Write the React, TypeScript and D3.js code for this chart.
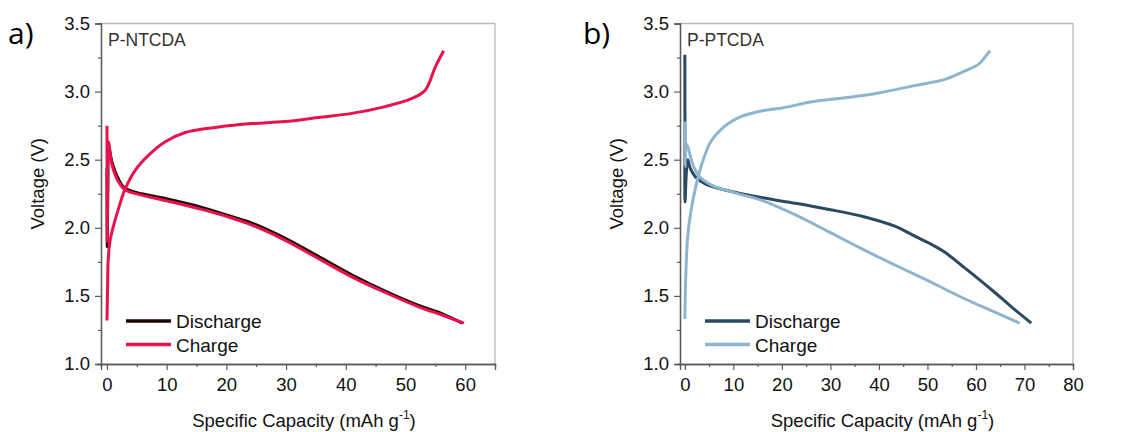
import React, { useEffect, useRef } from 'react';
import * as d3 from 'd3';

type Pt = [number, number];

// a) P-NTCDA  [capacity mAh/g, voltage V]
const ntcdaDischarge: Pt[] = [
  [0.0, 2.44], [0.02, 2.1], [0.05, 1.86], [0.15, 2.3], [0.3, 2.6], [0.8, 2.49], [1.9, 2.36],
  [3.0, 2.29], [5.8, 2.25], [10.3, 2.21], [15.9, 2.15], [20.3, 2.09], [24.3, 2.035], [29.8, 1.925],
  [35.4, 1.79], [41.0, 1.655], [46.6, 1.535], [52.2, 1.43], [56.1, 1.37], [59.5, 1.3],
];
const ntcdaChargeDown: Pt[] = [
  [0.0, 2.75], [0.03, 2.2], [0.06, 1.9], [0.12, 2.4], [0.25, 2.63], [0.8, 2.47], [1.9, 2.34],
  [3.0, 2.28], [5.8, 2.24], [10.3, 2.195], [15.9, 2.135], [20.3, 2.08], [24.3, 2.02], [29.8, 1.91],
  [35.4, 1.775], [41.0, 1.64], [46.6, 1.525], [52.2, 1.42], [56.1, 1.36], [59.8, 1.3],
];
const ntcdaCharge: Pt[] = [
  [0.0, 1.32], [0.1, 1.55], [0.2, 1.76], [0.5, 1.9], [1.07, 2.01], [2.0, 2.15], [3.0, 2.28],
  [4.7, 2.42], [6.9, 2.53], [9.7, 2.63], [13.1, 2.7], [18.7, 2.74], [24.3, 2.765], [29.8, 2.78],
  [35.4, 2.81], [41.0, 2.84], [46.6, 2.89], [51.1, 2.95], [53.3, 3.01], [55.0, 3.18], [56.4, 3.3],
];

// b) P-PTCDA
const ptcdaDischarge: Pt[] = [
  [0.0, 3.27], [0.02, 2.8], [0.04, 2.19], [0.3, 2.4], [0.6, 2.5], [0.9, 2.46], [1.5, 2.41],
  [2.3, 2.37], [4.3, 2.32], [9.1, 2.27], [16, 2.22], [22.8, 2.18], [29.7, 2.135], [36.5, 2.085],
  [43.4, 2.01], [46.8, 1.95], [50.2, 1.89], [53.6, 1.82], [57, 1.725], [60, 1.64], [63.9, 1.525],
  [67.3, 1.42], [71.4, 1.3],
];
const ptcdaChargeDown: Pt[] = [
  [0.0, 2.78], [0.05, 2.45], [0.2, 2.62], [0.55, 2.6], [1.6, 2.47], [2.9, 2.38], [5.7, 2.31],
  [10.5, 2.255], [16, 2.2], [22.8, 2.095], [29.7, 1.97], [36.5, 1.845], [43.4, 1.725],
  [50.2, 1.61], [57, 1.49], [63.9, 1.38], [69, 1.3],
];
const ptcdaCharge: Pt[] = [
  [0.0, 1.33], [0.2, 1.65], [0.55, 1.92], [1.2, 2.11], [2.3, 2.31], [3.6, 2.48], [5.3, 2.63],
  [7.1, 2.71], [9.1, 2.77], [11.8, 2.82], [16, 2.86], [20.1, 2.88], [26.2, 2.925], [33.1, 2.955],
  [39.9, 2.99], [46.8, 3.04], [53.6, 3.09], [57, 3.14], [60.5, 3.2], [61.8, 3.25], [62.9, 3.3],
];

const voltageTicks = [1.0, 1.5, 2.0, 2.5, 3.0, 3.5];
const voltageMinor = [1.25, 1.75, 2.25, 2.75, 3.25];
const ntcdaCapTicks = [0, 10, 20, 30, 40, 50, 60];
const ptcdaCapTicks = [0, 10, 20, 30, 40, 50, 60, 70, 80];
const legendNames = ['Discharge', 'Charge'];

const FONT = '"Liberation Sans", Arial, sans-serif';
const TOP = 23.5;
const BOTTOM = 364;

const Panel = ({ letter, letterX, name, left, right, xMax, capTicks, discharge, chargeDown, charge, colors }) => {
  const xAxisRef = useRef(null);
  const yAxisRef = useRef(null);

  const x = d3.scaleLinear().domain([-1, xMax]).range([left, right]);
  const y = d3.scaleLinear().domain([1, 3.5]).range([BOTTOM, TOP]);

  const line = d3.line<Pt>()
    .x(d => x(d[0]))
    .y(d => y(d[1]))
    .curve(d3.curveCatmullRom.alpha(0.5));

  useEffect(() => {
    const gx = d3.select(xAxisRef.current);
    gx.selectAll('*').remove();
    const minor = d3.range(5, xMax + 0.1, 10);
    gx.append('g').call(d3.axisBottom(x).tickValues(minor).tickSize(3).tickFormat(() => ''));
    gx.append('g').call(d3.axisBottom(x).tickValues(capTicks).tickSize(6).tickPadding(8).tickFormat(d3.format('d')));

    const gy = d3.select(yAxisRef.current);
    gy.selectAll('*').remove();
    gy.append('g').call(d3.axisLeft(y).tickValues(voltageMinor).tickSize(3).tickFormat(() => ''));
    gy.append('g').call(d3.axisLeft(y).tickValues(voltageTicks).tickSize(6).tickPadding(5).tickFormat(d3.format('.1f')));

    [gx, gy].forEach(g => {
      g.selectAll('.domain').attr('stroke', '#5a5a5a').attr('stroke-width', 1.3);
      g.selectAll('.tick line').attr('stroke', '#5a5a5a').attr('stroke-width', 1.2);
      g.selectAll('text').attr('fill', '#111').style('font-size', '18.5px').style('font-family', FONT);
    });
  }, []);

  const mid = (left + right) / 2 + 6;
  const legendX0 = left + 25;

  return (
    <g>
      <text x={letterX} y={44} fontSize={30} fontFamily='"Open Sans", "Noto Sans", sans-serif' fill="#000">{letter}</text>
      <line x1={left} x2={right} y1={TOP} y2={TOP} stroke="#b8b8b8" strokeWidth={1.3} />
      <line x1={right} x2={right} y1={TOP} y2={BOTTOM} stroke="#b8b8b8" strokeWidth={1.3} />
      <text x={left + 7} y={46} fontSize={17.5} fontFamily={FONT} fill="#333">{name}</text>

      <path d={line(discharge) ?? ''} fill="none" stroke={colors[0]} strokeWidth={3} strokeLinejoin="round" />
      <path d={line(chargeDown) ?? ''} fill="none" stroke={colors[1]} strokeWidth={3} strokeLinejoin="round" />
      <path d={line(charge) ?? ''} fill="none" stroke={colors[1]} strokeWidth={3} strokeLinejoin="round" />

      {legendNames.map((n, i) => (
        <g key={n} transform={`translate(${legendX0}, ${321 + i * 23.5})`}>
          <line x1={0} x2={45} y1={0} y2={0} stroke={colors[i]} strokeWidth={3.5} />
          <text x={50} y={7} fontSize={19} fontFamily={FONT} fill="#111">{n}</text>
        </g>
      ))}

      <g ref={xAxisRef} transform={`translate(0, ${BOTTOM})`} />
      <g ref={yAxisRef} transform={`translate(${left}, 0)`} />

      <text x={mid} y={427} textAnchor="middle" fontSize={18.5} fontFamily={FONT} fill="#111">
        Specific Capacity (mAh g<tspan fontSize={12} dy={-8}>-1</tspan><tspan dy={8}>)</tspan>
      </text>
      <text transform={`translate(${left - 57}, ${(TOP + BOTTOM) / 2 - 10}) rotate(-90)`} textAnchor="middle"
        fontSize={18.5} fontFamily={FONT} fill="#111">Voltage (V)</text>
    </g>
  );
};

export default function App() {
  return (
    <svg width={1121} height={432} style={{ position: 'absolute', left: 0, top: 0, background: '#fff' }}>
      <Panel letter="a)" letterX={8} name="P-NTCDA" left={101} right={495} xMax={65} capTicks={ntcdaCapTicks}
        discharge={ntcdaDischarge} chargeDown={ntcdaChargeDown} charge={ntcdaCharge} colors={['#1e0505', '#e8124c']} />
      <Panel letter="b)" letterX={583} name="P-PTCDA" left={680} right={1073} xMax={80} capTicks={ptcdaCapTicks}
        discharge={ptcdaDischarge} chargeDown={ptcdaChargeDown} charge={ptcdaCharge} colors={['#2b4a60', '#8eb5cf']} />
    </svg>
  );
}
